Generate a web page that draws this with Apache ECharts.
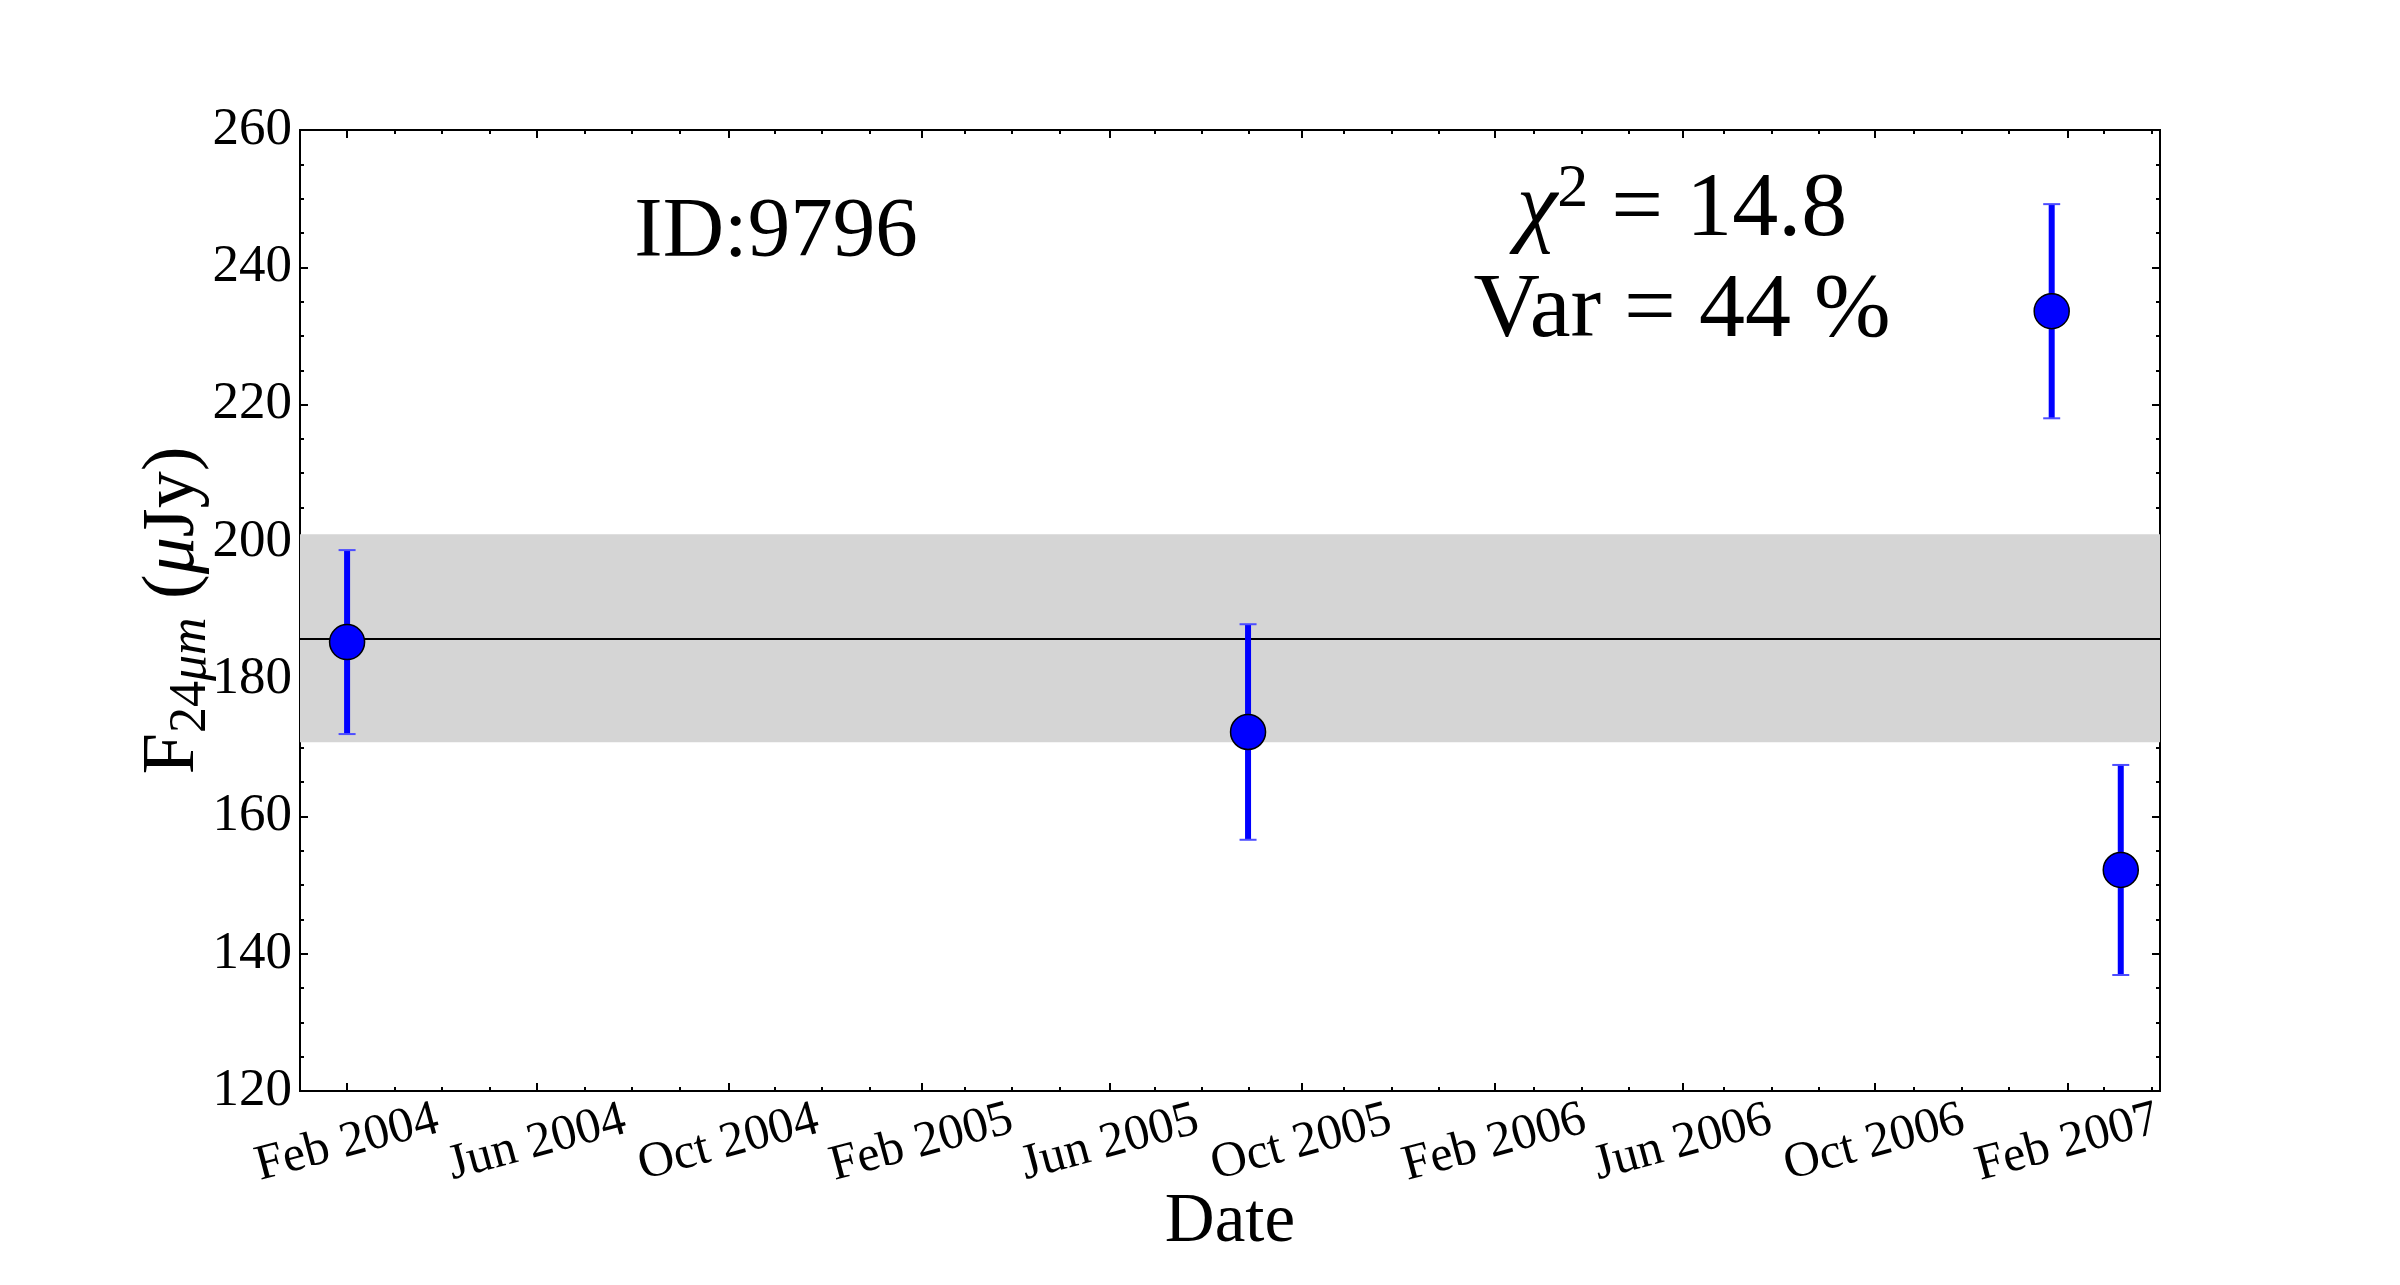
<!DOCTYPE html>
<html>
<head>
<meta charset="utf-8">
<script src="https://cdn.jsdelivr.net/npm/echarts@6/dist/echarts.min.js"></script>
<style>
  html, body { margin: 0; padding: 0; background: #fff; }
  #chart { width: 2400px; height: 1285px; }
</style>
</head>
<body>
<div id="chart"></div>
<script>
const obsDates = ['2004-02-01', '2005-08-28', '2007-01-22', '2007-03-07']
const flux = [185.4, 172.3, 233.6, 152.2]
const fluxErr = [13.4, 15.7, 15.6, 15.3]

// weighted mean and its band
const meanFlux = 185.9
const bandLow = 170.8
const bandHigh = 201.1

// x axis
const xRange = ['2004-01-02', '2007-04-01']
const tickDates = ['2004-02-01', '2004-06-01', '2004-10-01', '2005-02-01', '2005-06-01',
  '2005-10-01', '2006-02-01', '2006-06-01', '2006-10-01', '2007-02-01']
const tickLabels = ['Feb 2004', 'Jun 2004', 'Oct 2004', 'Feb 2005', 'Jun 2005',
  'Oct 2005', 'Feb 2006', 'Jun 2006', 'Oct 2006', 'Feb 2007']

// y axis
const yMin = 120
const yMax = 260
const yStep = 20

const serif = 'Liberation Serif'

function ts(d) {
  return Date.parse(d + 'T00:00:00Z')
}

const xMin = ts(xRange[0])
const xMax = ts(xRange[1])
const majorTicks = tickDates.map(ts)

// minor ticks: first major step split in 4, every 4th dropped (as matplotlib did)
const minorStep = (majorTicks[1] - majorTicks[0]) / 4
const minorTicks = []
for (let k = -2; k < 60; k++) {
  const v = majorTicks[0] + k * minorStep
  if (k % 4 !== 0 && v >= xMin && v <= xMax) minorTicks.push(v)
}

const points = obsDates.map((d, i) => [ts(d), flux[i]])
const bars = obsDates.map((d, i) => [ts(d), flux[i] - fluxErr[i], flux[i] + fluxErr[i]])

// ticks only
function xTickAxis(position, ticks, len) {
  return {
    type: 'value',
    position: position,
    min: xMin,
    max: xMax,
    splitLine: { show: false },
    axisLine: { show: true, onZero: false, lineStyle: { color: '#000', width: 2 } },
    axisTick: {
      show: true,
      inside: true,
      length: len,
      customValues: ticks,
      lineStyle: { color: '#000', width: 2 }
    },
    axisLabel: { show: false }
  }
}

// labels only; split in two axes so echarts never drops a neighbour label
function xLabelAxis(values) {
  return {
    type: 'value',
    position: 'bottom',
    min: xMin,
    max: xMax,
    splitLine: { show: false },
    axisLine: { show: false, onZero: false },
    axisTick: { show: false },
    axisLabel: {
      show: true,
      customValues: values,
      showMinLabel: true,
      showMaxLabel: true,
      formatter: function(v) {
        const i = majorTicks.indexOf(v)
        return i >= 0 ? tickLabels[i] : ''
      },
      rotate: 15,
      align: 'center',
      verticalAlign: 'middle',
      margin: 52,
      fontFamily: serif,
      fontSize: 50,
      color: '#000'
    }
  }
}

function yAxisDef(position, withLabels) {
  return {
    type: 'value',
    position: position,
    min: yMin,
    max: yMax,
    interval: yStep,
    splitLine: { show: false },
    axisLine: { show: true, onZero: false, lineStyle: { color: '#000', width: 2 } },
    axisTick: { show: true, inside: true, length: 8, lineStyle: { color: '#000', width: 2 } },
    minorTick: { show: true, splitNumber: 4, length: 4, lineStyle: { color: '#000', width: 2 } },
    axisLabel: withLabels ? {
      show: true,
      showMinLabel: true,
      showMaxLabel: true,
      margin: 8,
      fontFamily: serif,
      fontSize: 53,
      color: '#000'
    } : { show: false }
  }
}

const chart = echarts.init(document.getElementById('chart'))

const xAxes = [
  xTickAxis('bottom', majorTicks, 8),
  xTickAxis('bottom', minorTicks, 4),
  xTickAxis('top', majorTicks, 8),
  xTickAxis('top', minorTicks, 4),
  xLabelAxis(majorTicks.filter((v, i) => i % 2 === 0)),
  xLabelAxis(majorTicks.filter((v, i) => i % 2 === 1))
]
xAxes[0].name = 'Date'
xAxes[0].nameLocation = 'middle'
xAxes[0].nameGap = 97
xAxes[0].nameMoveOverlap = false
xAxes[0].nameTextStyle = { fontFamily: serif, fontSize: 69, color: '#000' }

const yLeft = yAxisDef('left', true)
yLeft.name = '{f|F}{s|24}{si|μm}{f| (}{fi|μ}{f|Jy)}'
yLeft.nameLocation = 'middle'
yLeft.nameRotate = 90
yLeft.nameGap = 83
yLeft.nameMoveOverlap = false
yLeft.nameTextStyle = {
  rich: {
    f: { fontFamily: serif, fontSize: 74, lineHeight: 86, color: '#000' },
    fi: { fontFamily: serif, fontSize: 74, lineHeight: 86, fontStyle: 'italic', color: '#000' },
    s: { fontFamily: serif, fontSize: 52, lineHeight: 44, verticalAlign: 'bottom', color: '#000' },
    si: { fontFamily: serif, fontSize: 52, lineHeight: 44, verticalAlign: 'bottom', fontStyle: 'italic', color: '#000' }
  }
}

chart.setOption({
  animation: false,
  backgroundColor: '#fff',
  grid: {
    left: 300,
    right: 240,
    top: 130,
    bottom: 194,
    containLabel: false,
    outerBoundsMode: 'none'
  },
  xAxis: xAxes,
  yAxis: [yLeft, yAxisDef('right', false)],
  graphic: [
    {
      type: 'text',
      x: 776,
      y: 234,
      style: {
        text: 'ID:9796',
        fontFamily: serif,
        fontSize: 85,
        fill: '#000',
        textAlign: 'center',
        textVerticalAlign: 'middle'
      }
    },
    {
      type: 'text',
      x: 1682,
      y: 211,
      style: {
        text: '{c|χ}{p|2}{n| = 14.8}',
        textAlign: 'center',
        textVerticalAlign: 'middle',
        rich: {
          c: { fontFamily: serif, fontSize: 92, fontStyle: 'italic', lineHeight: 104, fill: '#000' },
          p: { fontFamily: serif, fontSize: 62, lineHeight: 52, verticalAlign: 'top', fill: '#000' },
          n: { fontFamily: serif, fontSize: 92, lineHeight: 104, fill: '#000' }
        }
      }
    },
    {
      type: 'text',
      x: 1682,
      y: 312,
      style: {
        text: 'Var = 44 %',
        fontFamily: serif,
        fontSize: 92,
        fill: '#000',
        textAlign: 'center',
        textVerticalAlign: 'middle'
      }
    }
  ],
  series: [
    {
      // band + mean line
      type: 'line',
      data: [],
      silent: true,
      markArea: {
        silent: true,
        itemStyle: { color: '#d5d5d5' },
        data: [[{ yAxis: bandLow }, { yAxis: bandHigh }]]
      },
      markLine: {
        silent: true,
        symbol: 'none',
        label: { show: false },
        lineStyle: { color: '#000', width: 2, type: 'solid' },
        data: [{ yAxis: meanFlux }]
      },
      z: 1
    },
    {
      type: 'custom',
      data: bars,
      z: 5,
      silent: true,
      renderItem: function(params, api) {
        const x = api.value(0)
        const top = api.coord([x, api.value(2)])
        const bot = api.coord([x, api.value(1)])
        const cap = 8.5
        return {
          type: 'group',
          children: [
            {
              type: 'line',
              shape: { x1: top[0], y1: top[1], x2: bot[0], y2: bot[1] },
              style: { stroke: '#0000ff', lineWidth: 6 }
            },
            {
              type: 'line',
              shape: { x1: top[0] - cap, y1: top[1], x2: top[0] + cap, y2: top[1] },
              style: { stroke: '#4d4dff', lineWidth: 2 }
            },
            {
              type: 'line',
              shape: { x1: bot[0] - cap, y1: bot[1], x2: bot[0] + cap, y2: bot[1] },
              style: { stroke: '#4d4dff', lineWidth: 2 }
            }
          ]
        }
      }
    },
    {
      type: 'scatter',
      data: points,
      symbol: 'circle',
      symbolSize: 35,
      z: 10,
      itemStyle: { color: '#0000ff', borderColor: '#000', borderWidth: 1.5, opacity: 1 }
    }
  ]
})
</script>
</body>
</html>
